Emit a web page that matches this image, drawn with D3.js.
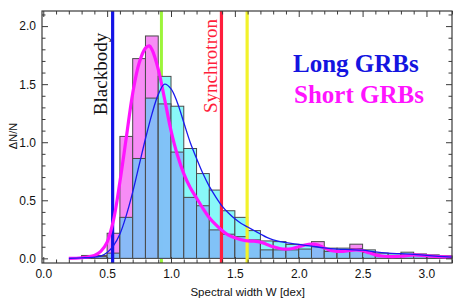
<!DOCTYPE html>
<html>
<head>
<meta charset="utf-8">
<script src="https://cdn.jsdelivr.net/npm/d3@7/dist/d3.min.js"></script>
<style>
  body { margin: 0; background: #fff; }
  svg text { font-family: "Liberation Sans", Arial, sans-serif; }
</style>
</head>
<body>
<svg id="chart" width="464" height="306"></svg>
<script>
// histogram bins (left edges, width 0.1 dex)
const binLo = [0.3, 0.4, 0.5, 0.6, 0.7, 0.8, 0.9, 1.0, 1.1, 1.2, 1.3, 1.4, 1.5, 1.6, 1.7,
               1.8, 1.9, 2.0, 2.1, 2.2, 2.3, 2.4, 2.5, 2.6, 2.7, 2.8, 2.9, 3.0, 3.1];
const longHist = [0.015, 0.015, 0.045, 0.353, 0.86, 1.38, 1.567, 1.31, 0.946, 0.73, 0.588, 0.41, 0.353, 0.239, 0.15,
                  0.144, 0.12, 0.12, 0.10, 0.088, 0.088, 0.083, 0.073, 0.045, 0.04, 0.053, 0.038, 0.03, 0.02];
const shortHist = [0.025, 0.025, 0.216, 1.05, 1.72, 1.915, 1.33, 0.915, 0.525, 0.453, 0.245, 0.208, 0.187, 0.159, 0.073,
                   0.073, 0.073, 0.08, 0.144, 0.06, 0.06, 0.122, 0.05, 0.02, 0.02, 0.03, 0.03, 0.02, 0.02];

// smoothed distributions
const longCurveX = [0.2, 0.3, 0.4, 0.45, 0.5, 0.55, 0.6, 0.65, 0.7, 0.75, 0.8, 0.85, 0.9, 0.95, 1.0, 1.05, 1.1, 1.15,
                    1.2, 1.25, 1.3, 1.35, 1.4, 1.45, 1.5, 1.55, 1.6, 1.65, 1.7, 1.75, 1.8, 1.9, 2.0, 2.1, 2.2, 2.3,
                    2.4, 2.5, 2.6, 2.7, 2.8, 2.9, 3.0, 3.1, 3.2];
const longCurveY = [0.0, 0.004, 0.01, 0.02, 0.05, 0.11, 0.21, 0.37, 0.57, 0.8, 1.03, 1.24, 1.41, 1.5, 1.46, 1.34, 1.17, 1.0,
                    0.86, 0.73, 0.62, 0.53, 0.45, 0.39, 0.34, 0.3, 0.27, 0.24, 0.21, 0.18, 0.16, 0.135, 0.12, 0.105, 0.09, 0.08,
                    0.075, 0.07, 0.055, 0.045, 0.04, 0.035, 0.025, 0.017, 0.01];
const shortCurveX = [0.2, 0.3, 0.4, 0.45, 0.5, 0.55, 0.6, 0.65, 0.7, 0.75, 0.8, 0.83, 0.85, 0.9, 0.95, 1.0, 1.05, 1.1,
                     1.15, 1.2, 1.25, 1.3, 1.35, 1.4, 1.45, 1.5, 1.55, 1.6, 1.65, 1.7, 1.75, 1.8, 1.85, 1.9, 1.95, 2.0,
                     2.05, 2.1, 2.15, 2.2, 2.25, 2.3, 2.35, 2.4, 2.45, 2.5, 2.55, 2.6, 2.65, 2.7, 2.8, 2.9, 3.0, 3.1, 3.2];
const shortCurveY = [0.0, 0.005, 0.025, 0.06, 0.14, 0.33, 0.66, 1.04, 1.42, 1.68, 1.81, 1.83, 1.8, 1.63, 1.37, 1.1, 0.89, 0.73,
                     0.61, 0.52, 0.43, 0.35, 0.29, 0.24, 0.2, 0.178, 0.16, 0.15, 0.148, 0.14, 0.12, 0.1, 0.085, 0.08, 0.085, 0.1,
                     0.115, 0.122, 0.115, 0.09, 0.068, 0.06, 0.06, 0.068, 0.072, 0.065, 0.048, 0.03, 0.02, 0.016, 0.018, 0.03, 0.022, 0.015, 0.01];

// reference widths
const markerNames = ["Blackbody", "", "Synchrotron", ""];
const markerX = [0.543, 0.925, 1.395, 1.596];
const markerColors = ["#1414e6", "#9cf53a", "#ff1e3c", "#f2f22a"];

const xTicks = [0.0, 0.5, 1.0, 1.5, 2.0, 2.5, 3.0];
const yTicks = [0.0, 0.5, 1.0, 1.5, 2.0];

let svg = d3.select("#chart");
let pLeft = 42, pRight = 452, pTop = 11, pBottom = 263;

let x = d3.scaleLinear().domain([-0.01, 3.2]).range([pLeft, pRight]);
let y = d3.scaleLinear().domain([-0.04, 2.13]).range([pBottom, pTop]);

let minorX = d3.range(0, 3.21, 0.1).filter(v => Math.abs(v * 2 - Math.round(v * 2)) > 0.01);
let minorY = d3.range(0, 2.11, 0.1).filter(v => Math.abs(v * 2 - Math.round(v * 2)) > 0.01);

// green line sits behind the bars
svg.append("line")
  .attr("x1", x(markerX[1])).attr("x2", x(markerX[1]))
  .attr("y1", pTop).attr("y2", pBottom)
  .attr("stroke", markerColors[1]).attr("stroke-width", 3);

let bins = binLo.map((b, i) => ({lo: b, hi: b + 0.1, l: longHist[i], s: shortHist[i]}));

let bars = svg.append("g");
bins.forEach(function(d){
  let hiVal = Math.max(d.l, d.s), loVal = Math.min(d.l, d.s);
  bars.append("rect")
    .attr("x", x(d.lo)).attr("width", x(d.hi) - x(d.lo))
    .attr("y", y(hiVal)).attr("height", y(0) - y(hiVal))
    .attr("fill", d.s > d.l ? "#f683f4" : "#80f8f8")
    .attr("fill-opacity", 0.93)
    .attr("stroke", "#4a4a4a").attr("stroke-width", 1);
  bars.append("rect")
    .attr("x", x(d.lo)).attr("width", x(d.hi) - x(d.lo))
    .attr("y", y(loVal)).attr("height", y(0) - y(loVal))
    .attr("fill", "#80bdf6")
    .attr("fill-opacity", 0.93)
    .attr("stroke", "#4a4a4a").attr("stroke-width", 1);
});

[0, 2, 3].forEach(function(i){
  svg.append("line")
    .attr("x1", x(markerX[i])).attr("x2", x(markerX[i]))
    .attr("y1", pTop).attr("y2", pBottom)
    .attr("stroke", markerColors[i]).attr("stroke-width", 3.2);
});

let line = d3.line().curve(d3.curveCatmullRom).x(d => x(d[0])).y(d => y(d[1]));

svg.append("path")
  .datum(shortCurveX.map((v, i) => [v, shortCurveY[i]]))
  .attr("d", line)
  .attr("fill", "none").attr("stroke", "#ff14ff").attr("stroke-width", 3.2)
  .attr("stroke-linejoin", "round");

svg.append("path")
  .datum(longCurveX.map((v, i) => [v, longCurveY[i]]))
  .attr("d", line)
  .attr("fill", "none").attr("stroke", "#1a1aee").attr("stroke-width", 1.3);

// labels of the marker lines
svg.append("text")
  .attr("transform", "translate(" + (x(markerX[0]) - 12) + ",74) rotate(-90)")
  .attr("text-anchor", "middle").attr("dominant-baseline", "central")
  .style("font-family", "'Liberation Serif', serif").style("font-size", "19px")
  .attr("fill", "#111").text(markerNames[0]);
svg.append("text")
  .attr("transform", "translate(" + (x(markerX[2]) - 11) + ",66) rotate(-90)")
  .attr("text-anchor", "middle").attr("dominant-baseline", "central")
  .style("font-family", "'Liberation Serif', serif").style("font-size", "19px")
  .attr("fill", "#ff1e3c").text(markerNames[2]);

// legend
svg.append("text").attr("x", 293).attr("y", 72)
  .style("font-family", "'Liberation Serif', serif").style("font-size", "25px").style("font-weight", "bold")
  .attr("fill", "#1414e0").text("Long GRBs");
svg.append("text").attr("x", 294).attr("y", 103)
  .style("font-family", "'Liberation Serif', serif").style("font-size", "25px").style("font-weight", "bold")
  .attr("fill", "#ff14ff").text("Short GRBs");

// frame and ticks
let frame = svg.append("g").attr("color", "#3a3a3a");
frame.append("g").attr("transform", "translate(0," + pBottom + ")")
  .call(d3.axisBottom(x).tickValues(xTicks).tickFormat(d3.format(".1f")).tickSizeInner(-6).tickSizeOuter(0).tickPadding(6));
frame.append("g").attr("transform", "translate(0," + pBottom + ")")
  .call(d3.axisBottom(x).tickValues(minorX).tickFormat("").tickSizeInner(-3.5).tickSizeOuter(0));
frame.append("g").attr("transform", "translate(0," + pTop + ")")
  .call(d3.axisTop(x).tickValues(xTicks).tickFormat("").tickSizeInner(-6).tickSizeOuter(0));
frame.append("g").attr("transform", "translate(0," + pTop + ")")
  .call(d3.axisTop(x).tickValues(minorX).tickFormat("").tickSizeInner(-3.5).tickSizeOuter(0));
frame.append("g").attr("transform", "translate(" + pLeft + ",0)")
  .call(d3.axisLeft(y).tickValues(yTicks).tickFormat(d3.format(".1f")).tickSizeInner(-6).tickSizeOuter(0).tickPadding(6));
frame.append("g").attr("transform", "translate(" + pLeft + ",0)")
  .call(d3.axisLeft(y).tickValues(minorY).tickFormat("").tickSizeInner(-3.5).tickSizeOuter(0));
frame.append("g").attr("transform", "translate(" + pRight + ",0)")
  .call(d3.axisRight(y).tickValues(yTicks).tickFormat("").tickSizeInner(-6).tickSizeOuter(0));
frame.append("g").attr("transform", "translate(" + pRight + ",0)")
  .call(d3.axisRight(y).tickValues(minorY).tickFormat("").tickSizeInner(-3.5).tickSizeOuter(0));
frame.selectAll(".domain").remove();
frame.selectAll(".tick text").attr("fill", "#111").style("font-size", "12px").style("font-family", "'Liberation Sans', Arial, sans-serif");

svg.append("rect").attr("x", pLeft).attr("y", pTop)
  .attr("width", pRight - pLeft).attr("height", pBottom - pTop)
  .attr("fill", "none").attr("stroke", "#3a3a3a").attr("stroke-width", 1.2);

// axis titles
svg.append("text").attr("x", (x(1.6))).attr("y", 296)
  .attr("text-anchor", "middle").style("font-size", "11.5px").attr("fill", "#111")
  .text("Spectral width W [dex]");
svg.append("text")
  .attr("transform", "translate(13,136) rotate(-90)")
  .attr("text-anchor", "middle").attr("dominant-baseline", "central")
  .style("font-size", "11px").attr("fill", "#111").text("ΔN/N");
</script>
</body>
</html>
